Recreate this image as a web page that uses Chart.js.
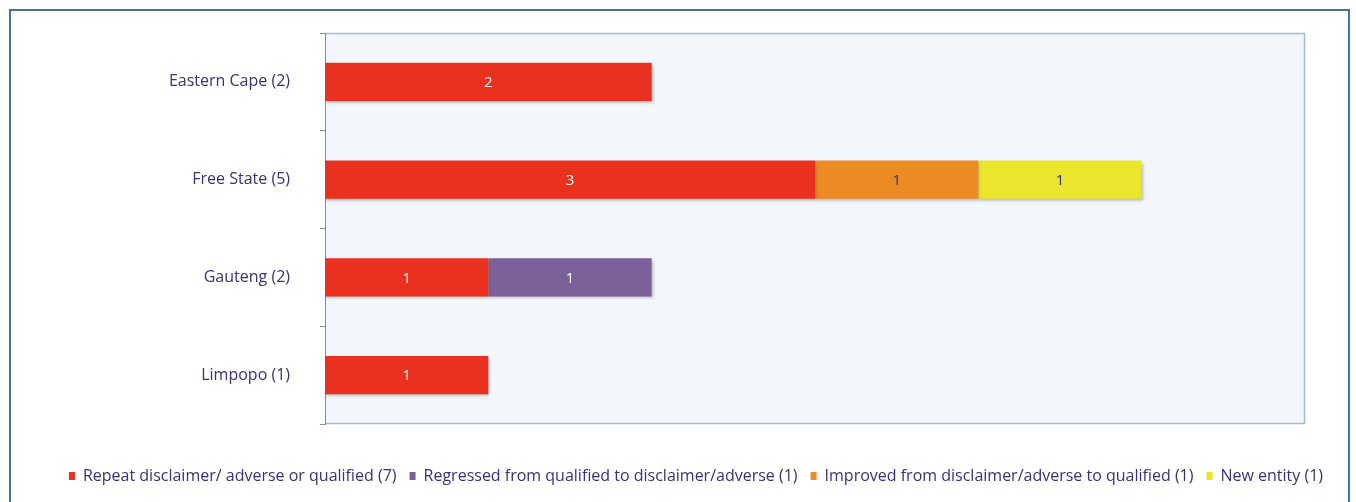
<!DOCTYPE html>
<html>
<head>
<meta charset="utf-8">
<script src="https://cdn.jsdelivr.net/npm/chart.js@4"></script>
<style>
  html, body { margin: 0; padding: 0; background: #ffffff; }
  #wrap { position: relative; width: 1356px; height: 502px; overflow: hidden; }
  #frame { position: absolute; left: 9px; top: 9px; width: 1341px; height: 520px;
           border: 2px solid #4a6ea6; box-sizing: border-box; pointer-events: none; }
  canvas { position: absolute; left: 0; top: 0; }
</style>
</head>
<body>
<div id="wrap">
  <canvas id="c" width="1356" height="502"></canvas>
  <div id="frame"></div>
</div>
<script>
// Provinces with their entity totals
const provinces = ['Eastern Cape (2)', 'Free State (5)', 'Gauteng (2)', 'Limpopo (1)'];

// Audit outcome counts per province (null = none)
const repeatDisclaimer = [2, 3, 1, 1];
const regressed        = [null, null, 1, null];
const improved         = [null, 1, null, null];
const newEntity        = [null, 1, null, null];

const seriesNames = [
  'Repeat disclaimer/ adverse or qualified (7)',
  'Regressed from qualified to disclaimer/adverse (1)',
  'Improved from disclaimer/adverse to qualified (1)',
  'New entity (1)'
];

const xTicks = [0, 1, 2, 3, 4, 5, 6];

const textColor = '#3a2f7c';
const fontFamily = '"Open Sans", "Liberation Sans", sans-serif';

// Light plot panel with a thin blue edge on top, right and bottom
const plotPanel = {
  id: 'plotPanel',
  beforeDraw(chart) {
    const { ctx, chartArea: a } = chart;
    ctx.save();
    ctx.fillStyle = '#f3f6fa';
    ctx.fillRect(a.left, a.top, a.right - a.left, a.bottom - a.top);
    ctx.strokeStyle = '#9fbcdc';
    ctx.lineWidth = 1.5;
    ctx.beginPath();
    ctx.moveTo(a.left, a.top + 0.5);
    ctx.lineTo(a.right - 0.5, a.top + 0.5);
    ctx.lineTo(a.right - 0.5, a.bottom - 0.5);
    ctx.lineTo(a.left, a.bottom - 0.5);
    ctx.stroke();
    ctx.restore();
  }
};

// Soft drop shadow under the bars
const barShadow = {
  id: 'barShadow',
  beforeDatasetsDraw(chart) {
    const ctx = chart.ctx;
    ctx.save();
    ctx.shadowColor = 'rgba(60, 60, 60, 0.35)';
    ctx.shadowBlur = 3;
    ctx.shadowOffsetX = 1;
    ctx.shadowOffsetY = 2;
  },
  afterDatasetsDraw(chart) {
    chart.ctx.restore();
  }
};

// Segment value written in the middle of each bar piece
const segmentLabels = {
  id: 'segmentLabels',
  afterDatasetsDraw(chart) {
    const ctx = chart.ctx;
    ctx.save();
    ctx.font = '15px ' + fontFamily;
    ctx.textAlign = 'center';
    ctx.textBaseline = 'middle';
    chart.data.datasets.forEach((ds, i) => {
      const meta = chart.getDatasetMeta(i);
      meta.data.forEach((el, j) => {
        const v = ds.data[j];
        if (v === null || v === undefined) return;
        ctx.fillStyle = ds.labelColor;
        ctx.fillText(String(v), (el.x + el.base) / 2, el.y + 1);
      });
    });
    ctx.restore();
  }
};

new Chart(document.getElementById('c'), {
  type: 'bar',
  data: {
    labels: provinces,
    datasets: [
      { label: seriesNames[0], data: repeatDisclaimer, backgroundColor: '#ea3120', labelColor: '#ffffff' },
      { label: seriesNames[1], data: regressed,        backgroundColor: '#7a6199', labelColor: '#ffffff' },
      { label: seriesNames[2], data: improved,         backgroundColor: '#ec8a24', labelColor: '#3a2f7c' },
      { label: seriesNames[3], data: newEntity,        backgroundColor: '#e9e62c', labelColor: '#3a2f7c' }
    ]
  },
  options: {
    indexAxis: 'y',
    responsive: false,
    animation: false,
    layout: { padding: { left: 36, right: 0, top: 33, bottom: 8 } },
    datasets: {
      bar: { categoryPercentage: 1, barPercentage: 0.39, borderWidth: 0 }
    },
    scales: {
      x: {
        stacked: true,
        min: xTicks[0],
        max: xTicks[xTicks.length - 1],
        afterBuildTicks(s) { s.ticks = xTicks.map(v => ({ value: v })); },
        ticks: { display: false },
        grid: { display: false },
        border: { display: false },
        afterFit(s) { s.height = 31; s.paddingLeft = 0; s.paddingRight = 0; }
      },
      y: {
        stacked: true,
        afterFit(s) { s.width = 289; s.paddingTop = 0; s.paddingBottom = 0; },
        ticks: {
          color: textColor,
          padding: 30,
          font: { family: fontFamily, size: 16 }
        },
        grid: {
          offset: true,
          drawOnChartArea: false,
          drawTicks: true,
          tickLength: 5,
          color: '#8c8c8c'
        },
        border: { display: true, color: '#8c8c8c', width: 1 }
      },
      // empty right-hand margin beside the plot
      yMargin: {
        type: 'category',
        position: 'right',
        ticks: { display: false },
        grid: { display: false },
        border: { display: false },
        afterFit(s) { s.width = 51; s.paddingTop = 0; s.paddingBottom = 0; }
      }
    },
    plugins: {
      legend: {
        position: 'bottom',
        align: 'center',
        labels: {
          boxWidth: 6,
          boxHeight: 8,
          padding: 13,
          color: textColor,
          font: { family: fontFamily, size: 16 }
        }
      },
      tooltip: { enabled: false }
    }
  },
  plugins: [plotPanel, barShadow, segmentLabels]
});
</script>
</body>
</html>
